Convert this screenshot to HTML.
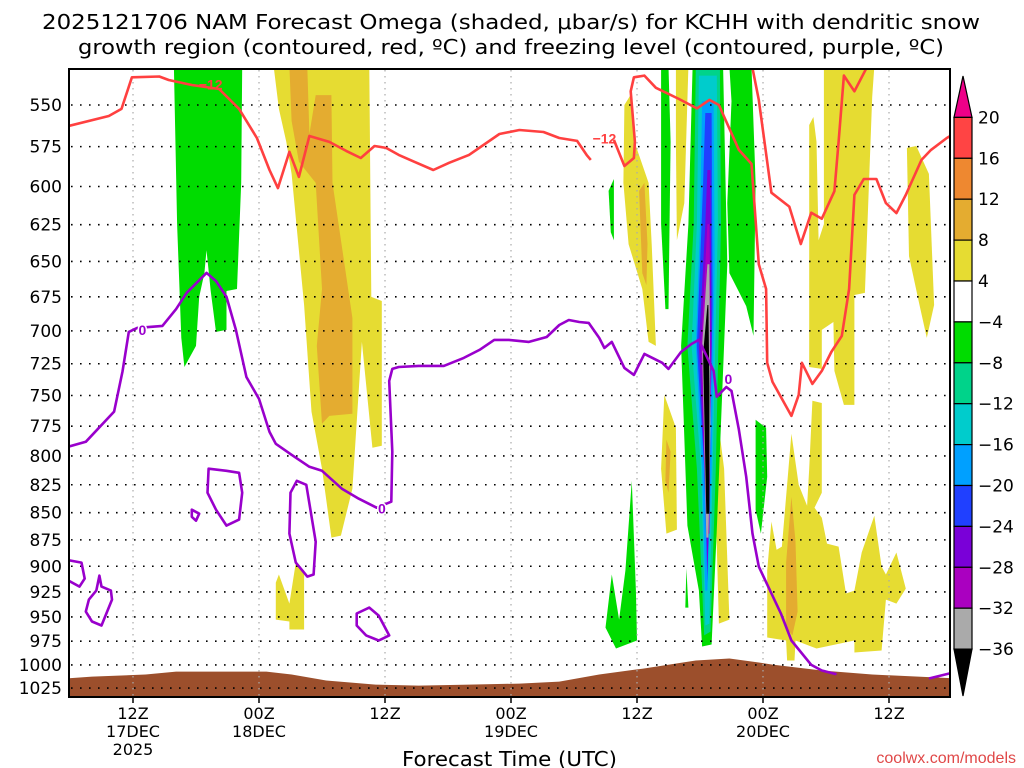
<!DOCTYPE html>
<html><head><meta charset="utf-8"><style>
html,body{margin:0;padding:0;background:#fff;}
svg{display:block;font-family:"Liberation Sans",sans-serif;}
</style></head><body>
<svg id="chart" width="1024" height="768" viewBox="0 0 1024 768">
<defs><clipPath id="plotclip"><rect x="69" y="69" width="881" height="628"/></clipPath></defs>
<g font-size="20" fill="#000" font-family="DejaVu Sans, sans-serif">
<text x="42" y="29" textLength="938" lengthAdjust="spacingAndGlyphs">2025121706 NAM Forecast Omega (shaded, μbar/s) for KCHH with dendritic snow</text>
<text x="78" y="54" textLength="866" lengthAdjust="spacingAndGlyphs">growth region (contoured, red, ºC) and freezing level (contoured, purple, ºC)</text>
</g>
<g id="shading" clip-path="url(#plotclip)"></g>
<g id="grid"></g>
<g id="contours" clip-path="url(#plotclip)"></g>
<rect x="69" y="69" width="881" height="628" fill="none" stroke="#000" stroke-width="2"/>
<g id="yaxis"></g>
<g id="xaxis"></g>
<text x="402" y="766" font-size="20" textLength="215" lengthAdjust="spacingAndGlyphs" font-family="DejaVu Sans, sans-serif">Forecast Time (UTC)</text>
<text x="1016" y="763" font-size="16" text-anchor="end" fill="#e04848">coolwx.com/models</text>
<g id="colorbar"></g>
</svg>
<script>
// axis data
const pressureTicks=[550,575,600,625,650,675,700,725,750,775,800,825,850,875,900,925,950,975,1000,1025];
const timeTickHours=[6,18,30,42,54,66,78];
const timeTickLabels=[["12Z","17DEC","2025"],["00Z","18DEC"],["12Z"],["00Z","19DEC"],["12Z"],["00Z","20DEC"],["12Z"]];
const cbLevels=[20,16,12,8,4,-4,-8,-12,-16,-20,-24,-28,-32,-36];
const cbColors=["#ee0088","#ff4444","#ee8830","#e4ac30","#e6dc32","#ffffff","#00dc00","#00d38a","#00cccc","#00a0ff","#2040ff","#7a00d8","#aa00c0","#aaaaaa","#000000"];
// terrain (surface pressure)
const terrainHours=[-0.5,2.1,7.2,10.1,18.7,21.1,24.4,29.1,33.2,38,42.8,46.6,50.4,54.5,59.6,62.8,65.6,66.9,71.6,76.4,84.5];
const terrainP=[1014.6,1012.5,1010.3,1007.1,1007.1,1010.3,1016.8,1021.2,1022.3,1021.2,1020.1,1017.9,1010.3,1004,995.3,993.2,997.4,999.6,1006,1010.3,1014.6];
// shaded omega regions [hour, hPa]
const greenLeft=[[9.9,528],[16.4,528],[16.3,597.7],[15.9,669.4],[14.9,670.8],[14.9,699.3],[13.9,700.8],[13.4,670.8],[13,642.2],[12.8,658.1],[12.3,675.1],[12,711.3],[10.9,727.5],[10.6,705.3],[10.2,624.6]];
const yellowLeft=[[19.4,528],[28.5,528],[28.7,675.1],[29.7,678],[29.7,791.3],[28.8,793],[27.8,708.3],[26.9,828.5],[25.8,871],[24.9,872.9],[24,811],[23,763.2],[22.3,680.9],[21.1,592],[20.6,572.1],[19.9,552.3]];
const orangeLeft=[[20.9,528],[22.6,528],[22.8,567.3],[23.4,544.2],[24.9,544.2],[25,597.7],[26.9,690.4],[26.9,764.8],[24.7,766.5],[24,773],[23.5,711.3],[24,669.4],[23.4,597.7],[21.8,584.4],[21.1,559.5]];
const yellowLowLeft=[[19.6,915.8],[19.9,908],[20.9,936.6],[21.5,896.5],[22.3,904.1],[22.3,962.9],[20.9,962.9],[20.9,954.7],[19.6,952.7]];
const yellowA=[[52.8,550],[53.5,543],[53.9,574.6],[55.1,597.7],[55.4,638.1],[55.8,711.3],[55.1,708.3],[54.5,669.4],[53.2,638.1],[52.7,597.7]];
const orangeA=[[54.2,602.8],[54.7,597.7],[55,638.1],[54.9,666.6],[54.5,658.1]];
const greenSmall=[[51.3,602.8],[51.8,595.2],[51.8,635.4],[51.5,630]];
const greenStrip=[[56.3,528],[57,528],[57.2,572.1],[57,683.9],[56.7,683.9],[56.3,624.6]];
const yellowStrip=[[57.7,528],[58.9,528],[58.5,610.7],[57.8,635.4],[57.7,572.1]];
const greenRight=[[62.8,528],[64.9,528],[65.3,597.7],[65.1,703.8],[64.4,681.7],[62.8,658.1],[62.6,610.7],[63,547.7]];
const colGreen=[[59.3,528],[62.2,528],[62.6,651.9],[61.6,865.5],[61.1,978.4],[60.2,980.5],[59.9,923.7],[58.8,861.8],[58.2,711.3],[58.9,624.6]];
const colTeal=[[59.6,528],[61.9,528],[62,624.6],[61.5,811],[61,965],[60.4,969],[59.7,811],[58.8,711.3],[59.4,624.6]];
const colCyan=[[59.9,533],[61.6,533],[61.7,624.6],[61.2,811],[60.9,956.8],[60.5,958.8],[60.1,811],[59.2,711.3],[59.7,624.6]];
const colLightBlue=[[60.2,547.7],[61.3,547.7],[61.4,651.9],[61.1,811],[60.7,923.7],[60.5,923.7],[60.2,811],[59.6,711.3],[60,624.6]];
const colBlue=[[60.5,554.7],[61.1,554.7],[61.2,680.9],[60.9,811],[60.7,915.8],[60.4,811],[59.7,711.3],[60.3,597.7]];
const colViolet=[[60.7,589.5],[61,589.5],[61.1,711.3],[60.9,847.3],[60.7,908],[60.6,847.3],[59.9,711.3],[60.5,624.6]];
const colPurple=[[60.7,624.6],[60.9,624.6],[61,711.3],[60.9,869.2],[60.6,869.2],[60.1,711.3]];
const colGray=[[60.7,651.9],[60.9,651.9],[61,776.3],[60.8,872.9],[60.6,872.9],[60.2,711.3]];
const colBlack=[[60.7,680.9],[60.8,680.9],[60.9,742.3],[60.9,850.9],[60.6,850.9],[60.3,717.4]];
const greenLow=[[53.5,821.5],[53.9,923.7],[54,974.2],[52,982.6],[51,960.9],[51.6,908],[52.3,952.7],[52.9,904.1]];
const greenTiny=[[58.7,902.2],[58.9,940.6],[58.6,940.6]];
const yellowMid=[[56.6,749.5],[57.7,776.3],[57.8,865.5],[56.8,869.2],[56.3,811]];
const orangeMid=[[56.8,786.3],[57.2,796.4],[57,832],[56.7,821.5]];
const yellowColR=[[61.8,776.3],[62.3,811],[62.8,952.7],[61.8,956.8],[61.5,847.3]];
const greenRSmall=[[65.3,769.7],[66.3,776.3],[66.4,817.9],[65.8,869.2],[65.3,847.3]];
const yellowTopRight=[[71.8,528],[76.6,528],[76.4,545.3],[75.7,672.2],[74.7,673.7],[74.7,757.6],[73.7,757.6],[72.8,730.6],[72.7,693.4],[71.6,699.3],[71.6,729],[70.4,727.5],[70.4,669.4],[70.4,561.9],[70.8,557.1],[71.1,572.1],[71.3,635.4],[71.8,624.6]];
const yellowFarRight=[[79.7,575.8],[80.6,574.6],[81.8,592],[82.3,680.9],[81.6,705.3],[80.9,680.9],[79.9,646.3]];
const yellowLowRight=[[70.7,754.3],[71.6,756],[71.6,832],[70.9,845.5],[71.6,854.5],[72.1,878.5],[73.2,881.3],[73.9,926.6],[74.7,923.7],[75.4,886.9],[76.6,852.7],[77.3,900.3],[77.7,908],[78.7,886.9],[79.6,921.7],[78.7,936.6],[77.7,932.6],[77.3,984.7],[74.7,986.8],[74.7,974.2],[71.1,982.6],[69.1,974.2],[69,995.3],[68.3,995.3],[68.2,974.2],[66.4,971.1],[66.4,904.1],[66.8,858.1],[67.3,884.2],[67.8,881.3],[68.7,781.3],[69.4,825],[70.2,843.7],[70.4,811]];
const orangeLowRight=[[68.7,835.6],[69.1,876.7],[69.3,944.6],[68.8,969],[68.2,960.9],[68.2,896.5]];
// contours [hour, hPa]
const dgzLeft=[[-0.5,563],[3.7,556.5],[4.9,552.3],[5.9,534],[8.5,533.5],[9.4,535.5],[11.6,538.4],[14.2,540.7],[16.1,552.3],[17.8,569.7],[19,589.5],[19.8,601],[20.9,578.2],[21.8,593.9],[22.8,568.5],[24.7,572.1],[26.3,577.6],[27.7,582],[29,574.6],[30.1,575.8],[31.3,580.1],[32.8,584.4],[34.6,589.5],[36.1,585],[38,580.1],[40.9,567.3],[42.8,564.9],[45.1,566.1],[46.6,569.7],[48.3,571.5],[49.2,580.1],[49.6,583.2]];
const dgzMid=[[51.8,570.9],[52.8,587],[53.7,582],[53.8,572],[53.4,542],[53.7,534],[54.7,533],[55.8,540],[58,546.5],[59.7,552],[60.9,547],[61.8,550],[63.7,577],[64.9,585.7],[65.6,651.9],[66.3,669.4],[66.4,724.3],[66.9,739.2],[68.7,766.5],[69.4,749.5],[69.7,724.3],[70.7,740.8],[71.6,730.6],[72.5,716],[73.5,703.8],[74.2,669.4],[74.7,605.4],[75.6,595.2],[76.8,595.2],[77.7,610.7],[78.7,617.3],[79.6,605.4],[81.1,583.2],[82,577],[83.5,569.7],[84.5,566]];
const dgzTopRight=[[64.9,526],[65.6,547],[66.8,604],[68.5,613],[69.6,638],[70.6,617],[71.6,621],[72.8,603],[73.2,572],[73.7,533],[74.7,542],[76.1,526]];
const frzMain=[[-0.5,793],[1.5,788],[4.2,763],[5,731],[5.6,700.8],[6.4,697.8],[8.8,696.3],[10.1,683.9],[11.1,672.2],[13,658],[13.9,663.7],[14.9,675.1],[15.8,699.3],[16.8,735.3],[18,752.7],[19,779.7],[19.6,789.7],[21.1,799],[22.8,809.3],[24,812.8],[25.9,828.5],[27.5,837.4],[29.2,845.5],[30.6,840.1],[30.7,796.4],[30.4,738.4],[30.7,729],[31.3,727.5],[33.2,726.7],[35.6,726.7],[37.5,720.5],[39,714.4],[40.4,706.8],[41.8,706.8],[43.7,708.3],[45.4,704.6],[46.6,695.6],[47.5,691.9],[48.5,693.4],[49.4,694.1],[50.4,705.3],[50.9,712.9],[51.6,708.3],[52.8,728.2],[53.7,733.7],[54.7,717.4],[56.4,724.3],[57,729],[58.2,715.9],[59.2,709.8],[59.9,706.8],[61.3,730.6],[61.6,751],[62.5,743.2],[63,746.3],[63.7,778],[64.4,817.9],[65,869.2],[65.6,900.3],[67.7,946.6],[68.7,974.3],[70.6,1000],[71.6,1006],[73,1010]];
const frzRightEnd=[[81.8,1014.6],[84.5,1007]];
const frzLoopA=[[13.2,811],[14.9,812.8],[16.1,814.5],[16.4,832],[16.1,856.3],[14.9,861.8],[13.9,847.3],[13.1,832]];
const frzLoopB=[[11.6,847.3],[12.3,850.9],[12,857.3],[11.6,853.7]];
const frzLoopC=[[21.6,821.5],[22.5,825],[23.4,876.7],[23.2,908],[22.6,910],[21.5,896.5],[20.9,869.2],[21,832]];
const frzLoopD=[[27.3,946.6],[28.5,940.6],[29.4,948.7],[30.4,969],[29.4,974.2],[28.2,969],[27.3,958.8]];
const frzLoopE=[[-0.5,893.6],[1.1,896.5],[1.4,911.9],[0.9,919.8],[-0.5,911.9]];
const frzLoopF=[[2.8,909],[3,919.8],[3.9,923.7],[4,932.6],[3,958.8],[2.1,954.7],[1.5,944.6],[1.8,932.6],[2.5,923.7]];
const dgzLabels=[[13.4,538,"−12"],[50.9,570,"−12"]];
const frzLabels=[[6.9,699.3,"0"],[29.7,846.4,"0"],[62.7,737,"0"]];

const NS="http://www.w3.org/2000/svg";
const X0=70,PX=10.5,Y550=105,PY=936.6;
function xS(h){return X0+PX*h;}
function yS(p){return Y550+PY*Math.log(p/550);}
function mk(tag,attrs,parent){const e=document.createElementNS(NS,tag);for(const k in attrs)e.setAttribute(k,attrs[k]);parent.appendChild(e);return e;}
function ptsStr(arr){return arr.map(d=>xS(d[0]).toFixed(1)+","+yS(d[1]).toFixed(1)).join(" ");}

const shading=document.getElementById('shading');
const shapes=[
 [greenLeft,6,"green-region-left"],[yellowLeft,4,"yellow-region-left"],[orangeLeft,3,"gold-region-left"],[yellowLowLeft,4,"yellow-region-low-left"],
 [yellowA,4,"yellow-region-a"],[orangeA,3,"gold-region-a"],[greenSmall,6,"green-region-small"],[greenStrip,6,"green-strip"],[yellowStrip,4,"yellow-strip"],
 [greenRight,6,"green-region-right"],[greenLow,6,"green-region-low"],[greenTiny,6,"green-region-tiny"],[yellowMid,4,"yellow-region-mid"],[orangeMid,3,"gold-region-mid"],
 [yellowColR,4,"yellow-region-column-right"],[greenRSmall,6,"green-region-right-small"],
 [colGreen,6,"column-green"],[colTeal,7,"column-teal"],[colCyan,8,"column-cyan"],[colLightBlue,9,"column-lightblue"],[colBlue,10,"column-blue"],[colViolet,11,"column-violet"],[colPurple,12,"column-purple"],[colGray,13,"column-gray"],[colBlack,14,"column-black"],
 [yellowTopRight,4,"yellow-region-top-right"],[yellowFarRight,4,"yellow-region-far-right"],[yellowLowRight,4,"yellow-region-low-right"],[orangeLowRight,3,"gold-region-low-right"]
];
shapes.forEach(s=>{
 const e=mk('polygon',{points:ptsStr(s[0]),fill:cbColors[s[1]]},shading);
 
 
});
// terrain
const tp=terrainHours.map((h,i)=>[h,terrainP[i]]);
const tpath="M"+xS(terrainHours[0])+",700 L"+ptsStr(tp).split(" ").join(" L")+" L"+xS(terrainHours[terrainHours.length-1])+",700 Z";
const terr=mk('path',{d:tpath,fill:"#9c4f2c"},shading);



// grid
const grid=document.getElementById('grid');
pressureTicks.forEach(p=>{
 const g=mk('line',{x1:71,x2:950,y1:yS(p),y2:yS(p),stroke:"#000","stroke-width":1.6,"stroke-dasharray":"1.6 7.4"},grid);
 
 
});
timeTickHours.forEach(h=>{
 const g=mk('line',{x1:xS(h),x2:xS(h),y1:70,y2:696,stroke:"#aaa","stroke-width":1.2,"stroke-dasharray":"1.5 4.5"},grid);
 
 
});

// contours
const cont=document.getElementById('contours');
function line(arr,color,name,closed){
 const e=mk(closed?'polygon':'polyline',{points:ptsStr(arr),fill:"none",stroke:color,"stroke-width":2.6,"stroke-linejoin":"round"},cont);
 
 
}
line(dgzLeft,"#ff4040","dgz-contour-left",false);
line(dgzMid,"#ff4040","dgz-contour-mid",false);
line(dgzTopRight,"#ff4040","dgz-contour-top-right",false);
line(frzMain,"#9900cc","freezing-level-contour",false);
line(frzRightEnd,"#9900cc","freezing-level-contour-end",false);
[[frzLoopA,"a"],[frzLoopB,"b"],[frzLoopC,"c"],[frzLoopD,"d"],[frzLoopE,"e"],[frzLoopF,"f"]].forEach(l=>line(l[0],"#9900cc","freezing-loop-"+l[1],true));
dgzLabels.forEach(l=>{
 const t=mk('text',{x:xS(l[0]),y:yS(l[1])+5,"font-size":14,"font-weight":"bold","text-anchor":"middle",fill:"#ff4040"},cont);
 t.textContent=l[2];
 
 
});
frzLabels.forEach(l=>{
 const t=mk('text',{x:xS(l[0]),y:yS(l[1])+5,"font-size":14,"font-weight":"bold","text-anchor":"middle",fill:"#9900cc",stroke:"#fff","stroke-width":3,"paint-order":"stroke"},cont);
 t.textContent=l[2];
 
 
});

// y axis
const ya=document.getElementById('yaxis');
pressureTicks.forEach(p=>{
 const t=mk('text',{x:62,y:yS(p)+6,"font-size":17,"text-anchor":"end","font-family":"DejaVu Sans, sans-serif"},ya);
 t.textContent=p;
 
 
});
// x axis
const xa=document.getElementById('xaxis');
timeTickHours.forEach((h,i)=>{
 const tk=mk('line',{x1:xS(h),x2:xS(h),y1:697,y2:703,stroke:"#000","stroke-width":1.5},xa);
 
 
 timeTickLabels[i].forEach((s,j)=>{
  const t=mk('text',{x:xS(h),y:719+j*18,"font-size":16,"text-anchor":"middle","font-family":"DejaVu Sans, sans-serif"},xa);
  t.textContent=s;
  
  
 });
});
// colorbar
const cb=document.getElementById('colorbar');
const cbTop=117.4,seg=40.9,cbL=954,cbR=972;
cbColors.forEach((c,i)=>{
 let e;
 if(i===0){e=mk('polygon',{points:`${cbL},${cbTop} ${cbR},${cbTop} ${(cbL+cbR)/2},76`,fill:c,stroke:"#000","stroke-width":1.2},cb);}
 else if(i===cbColors.length-1){const y=cbTop+seg*(i-1);e=mk('polygon',{points:`${cbL},${y} ${cbR},${y} ${(cbL+cbR)/2},696`,fill:c,stroke:"#000","stroke-width":1.2},cb);}
 else{e=mk('rect',{x:cbL,y:cbTop+seg*(i-1),width:cbR-cbL,height:seg,fill:c,stroke:"#000","stroke-width":1.2},cb);}
 
 
});
cbLevels.forEach((v,i)=>{
 const t=mk('text',{x:978,y:cbTop+seg*i+6,"font-size":17,"font-family":"DejaVu Sans, sans-serif"},cb);
 t.textContent=(v<0?"−":"")+Math.abs(v);
 
 
});
</script>
</body></html>
